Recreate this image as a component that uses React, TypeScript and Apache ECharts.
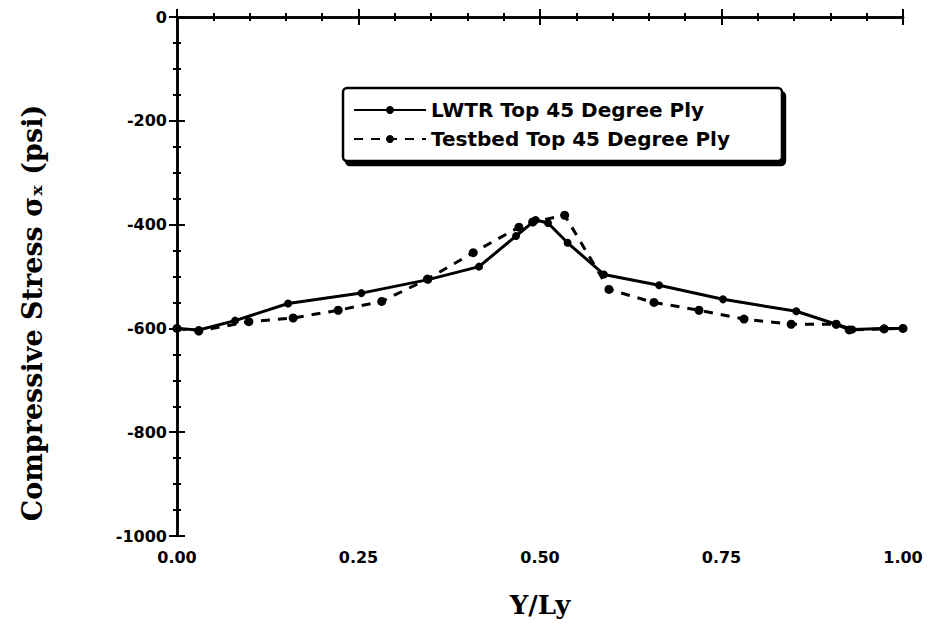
import React, { useEffect, useRef } from "react";
import * as echarts from "echarts";

const lwtrX = [0.0, 0.03, 0.08, 0.153, 0.254, 0.346, 0.416, 0.467, 0.494, 0.511, 0.538, 0.588, 0.664, 0.752, 0.853, 0.908, 0.93, 0.974, 1.0];
const lwtrY = [-600, -603, -585, -552, -532, -506, -481, -422, -391, -397, -435, -496, -517, -544, -567, -592, -602, -600, -600];

const testX = [0.0, 0.03, 0.099, 0.16, 0.222, 0.282, 0.345, 0.408, 0.471, 0.49, 0.534, 0.595, 0.657, 0.719, 0.781, 0.846, 0.908, 0.926, 0.974, 1.0];
const testY = [-600, -605, -587, -580, -565, -548, -505, -454, -405, -395, -382, -525, -550, -565, -582, -592, -592, -603, -601, -600];

const xTicks = [0, 0.25, 0.5, 0.75, 1.0];
const yTicks = [0, -200, -400, -600, -800, -1000];

const seriesNames = ["LWTR Top 45 Degree Ply", "Testbed Top 45 Degree Ply"];
const yAxisTitle = "Compressive Stress σ\u2093 (psi)";

export default function App() {
  const ref = useRef<HTMLDivElement>(null);
  useEffect(() => {
    if (!ref.current) return;
    const chart = echarts.init(ref.current, undefined, { renderer: "svg" });
    const labelFont = {
      fontFamily: "DejaVu Sans",
      fontWeight: "bold" as const,
      fontSize: 16,
      color: "#000",
    };
    const commonAxisLine = { show: true, lineStyle: { color: "#000", width: 2.5 } };
    const tick = { show: true, inside: true, length: 8, lineStyle: { color: "#000", width: 2 } };
    chart.setOption({
      animation: false,
      backgroundColor: "#fff",
      grid: { left: 169, right: 34, top: 9, bottom: 82 },
      graphic: [
        {
          type: "text",
          x: 24,
          y: 305,
          rotation: Math.PI / 2,
          style: {
            text: yAxisTitle,
            fontFamily: "DejaVu Serif",
            fontWeight: "bold",
            fontSize: 27,
            fill: "#000",
            align: "center",
            verticalAlign: "middle",
          },
        },
      ],
      legend: {
        data: seriesNames,
        orient: "vertical",
        left: 335,
        top: 80,
        itemWidth: 72,
        itemHeight: 10,
        itemGap: 9,
        padding: [12, 52, 12, 10],
        borderColor: "#000",
        borderWidth: 2.5,
        borderRadius: 4,
        backgroundColor: "#fff",
        shadowColor: "#000",
        shadowOffsetX: 3,
        shadowOffsetY: 4,
        shadowBlur: 0,
        textStyle: { ...labelFont, fontSize: 20 },
      },
      xAxis: [
        {
          type: "value",
          min: 0,
          max: 1,
          interval: 0.25,
          position: "bottom",
          name: "Y/Ly",
          nameLocation: "middle",
          nameGap: 56,
          nameTextStyle: {
            fontFamily: "DejaVu Serif",
            fontWeight: "bold",
            fontSize: 26,
            color: "#000",
          },
          axisLine: commonAxisLine,
          axisTick: tick,
          minorTick: { show: true, splitNumber: 5, length: 4, lineStyle: { color: "#000", width: 2 } },
          splitLine: { show: false },
          axisLabel: {
            ...labelFont,
            margin: 13,
            formatter: (v: number) => v.toFixed(2),
          },
        },
        {
          type: "value",
          min: 0,
          max: 1,
          interval: 0.25,
          position: "top",
          axisLine: commonAxisLine,
          axisTick: tick,
          minorTick: { show: true, splitNumber: 5, length: 4, lineStyle: { color: "#000", width: 2 } },
          splitLine: { show: false },
          axisLabel: { show: false },
        },
      ],
      yAxis: [
        {
          type: "value",
          min: -1000,
          max: 0,
          interval: 200,
          position: "left",
          axisLine: commonAxisLine,
          axisTick: tick,
          minorTick: { show: true, splitNumber: 4, length: 4, lineStyle: { color: "#000", width: 2 } },
          splitLine: { show: false },
          axisLabel: {
            ...labelFont,
            margin: 10,
            formatter: (v: number) => String(v),
          },
        },
        {
          type: "value",
          min: -1000,
          max: 0,
          interval: 200,
          position: "right",
          axisLine: commonAxisLine,
          axisTick: tick,
          minorTick: { show: true, splitNumber: 4, length: 4, lineStyle: { color: "#000", width: 2 } },
          splitLine: { show: false },
          axisLabel: { show: false },
        },
      ],
      series: [
        {
          name: seriesNames[0],
          type: "line",
          xAxisIndex: 0,
          yAxisIndex: 0,
          data: lwtrX.map((x, i) => [x, lwtrY[i]]),
          symbol: "circle",
          symbolSize: 8,
          itemStyle: { color: "#000" },
          lineStyle: { color: "#000", width: 3, type: "solid" },
        },
        {
          name: seriesNames[1],
          type: "line",
          xAxisIndex: 0,
          yAxisIndex: 0,
          data: testX.map((x, i) => [x, testY[i]]),
          symbol: "circle",
          symbolSize: 9,
          itemStyle: { color: "#000" },
          lineStyle: { color: "#000", width: 3, type: [9, 8] },
        },
      ],
    });
    return () => chart.dispose();
  }, []);
  return <div ref={ref} style={{ width: 929, height: 615 }} />;
}
